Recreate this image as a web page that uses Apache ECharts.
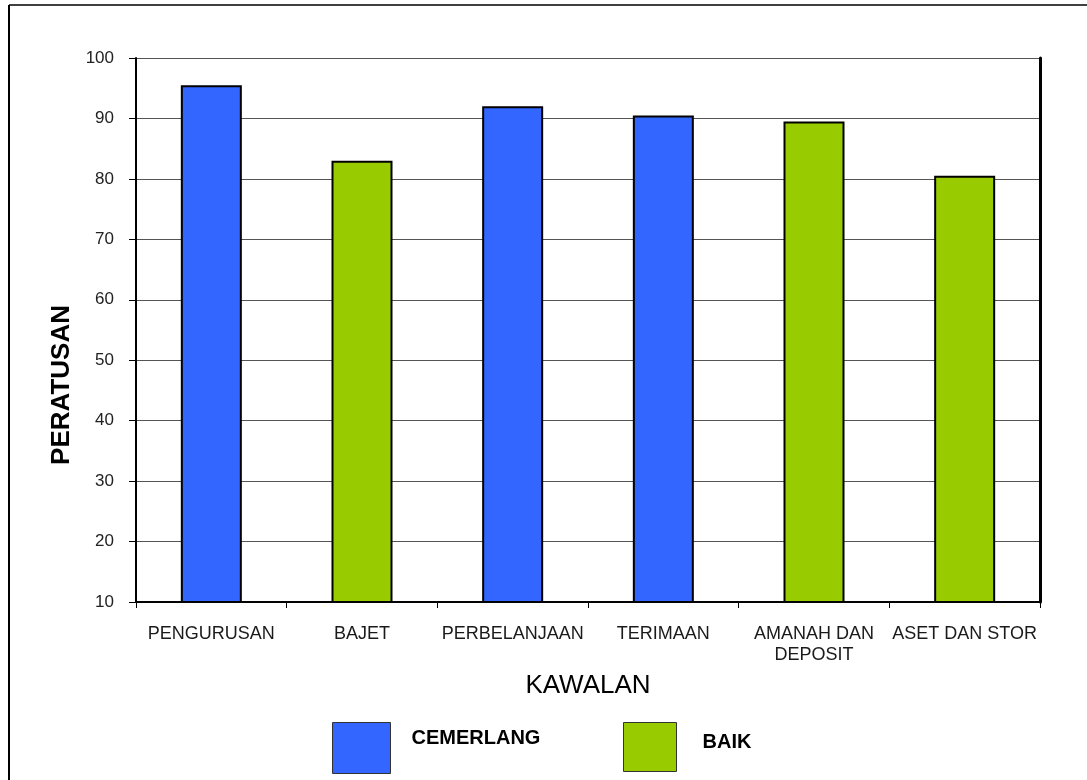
<!DOCTYPE html>
<html>
<head>
<meta charset="utf-8">
<title>Peratusan mengikut kawalan</title>
<script src="https://cdn.jsdelivr.net/npm/echarts@6/dist/echarts.min.js"></script>
<style>
  html, body { margin: 0; padding: 0; background: #fff; }
  #chart { width: 1087px; height: 780px; }
</style>
</head>
<body>
<div id="chart"></div>
<script>
// Kawalan categories, percentage scores and rating for each
const categories = ['PENGURUSAN', 'BAJET', 'PERBELANJAAN', 'TERIMAAN', 'AMANAH DAN\nDEPOSIT', 'ASET DAN STOR'];
const scores = [95.5, 83, 92, 90.5, 89.5, 80.5];
const ratings = ['CEMERLANG', 'BAIK', 'CEMERLANG', 'CEMERLANG', 'BAIK', 'BAIK'];
const ratingNames = ['CEMERLANG', 'BAIK'];
const ratingColors = { CEMERLANG: '#3366FF', BAIK: '#99CC00' };
const yTicks = { min: 10, max: 100, step: 10 };

const FONT = '"Liberation Sans", Arial, sans-serif';

// one series per rating; bars overlap on the same slot so each category shows a single bar
const series = ratingNames.map(name => ({
  name: name,
  type: 'bar',
  barWidth: 61,
  barGap: '-100%',
  data: scores.map((v, i) => (ratings[i] === name ? v : null)),
  itemStyle: { color: ratingColors[name], borderColor: '#000', borderWidth: 2 }
}));

// legend entry with its label raised a little above the swatch centre
function legendEntry(name, left, w, h, padLeft, padBottom) {
  return {
    data: [name],
    left: left, top: 717,
    itemWidth: w, itemHeight: h,
    icon: 'rect',
    itemStyle: { borderColor: '#333', borderWidth: 1 },
    formatter: '{t|{name}}',
    textStyle: {
      rich: {
        t: { fontSize: 20, fontWeight: 'bold', color: '#000', fontFamily: FONT, padding: [0, 0, padBottom, padLeft] }
      }
    },
    selectedMode: false
  };
}

const chart = echarts.init(document.getElementById('chart'), null, { renderer: 'canvas' });
chart.setOption({
  backgroundColor: '#fff',
  animation: false,
  textStyle: { fontFamily: FONT },
  grid: { left: 136, right: 47, top: 58, bottom: 178 },
  xAxis: {
    type: 'category',
    data: categories,
    name: 'KAWALAN',
    nameLocation: 'middle',
    nameGap: 71,
    nameTextStyle: { fontSize: 26, color: '#000', fontFamily: FONT },
    axisLine: { lineStyle: { color: '#000', width: 2 } },
    axisTick: { show: true, length: 6, lineStyle: { color: '#000', width: 1 } },
    axisLabel: { fontSize: 18, color: '#1a1a1a', margin: 22, lineHeight: 21, interval: 0, fontFamily: FONT }
  },
  yAxis: [{
    type: 'value',
    min: yTicks.min,
    max: yTicks.max,
    interval: yTicks.step,
    name: 'PERATUSAN',
    nameLocation: 'middle',
    nameRotate: 90,
    nameGap: 55,
    // right padding pushes the rotated title lower along the axis
    nameTextStyle: { fontSize: 26, fontWeight: 'bold', color: '#000', fontFamily: FONT, padding: [0, 110, 0, 0] },
    axisLine: { show: true, lineStyle: { color: '#000', width: 2 } },
    axisTick: { show: true, length: 7, lineStyle: { color: '#000', width: 1 } },
    axisLabel: { fontSize: 17, color: '#222', margin: 22, fontFamily: FONT },
    splitLine: { show: true, lineStyle: { color: '#555', width: 1 } }
  }, {
    type: 'value',
    position: 'right',
    min: yTicks.min,
    max: yTicks.max,
    interval: yTicks.step,
    axisLine: { show: true, lineStyle: { color: '#000', width: 3 } },
    axisTick: { show: false },
    axisLabel: { show: false },
    splitLine: { show: false }
  }],
  legend: [
    legendEntry('CEMERLANG', 327, 58, 51, 16, 20),
    legendEntry('BAIK', 618, 53, 49, 21, 9)
  ],
  // outer frame along the left and top edges
  graphic: [
    { type: 'line', shape: { x1: 9, y1: 5, x2: 9, y2: 780 }, style: { stroke: '#000', lineWidth: 2 } },
    { type: 'line', shape: { x1: 9, y1: 5, x2: 1087, y2: 5 }, style: { stroke: '#000', lineWidth: 1.5 } }
  ],
  series: series
});
</script>
</body>
</html>
